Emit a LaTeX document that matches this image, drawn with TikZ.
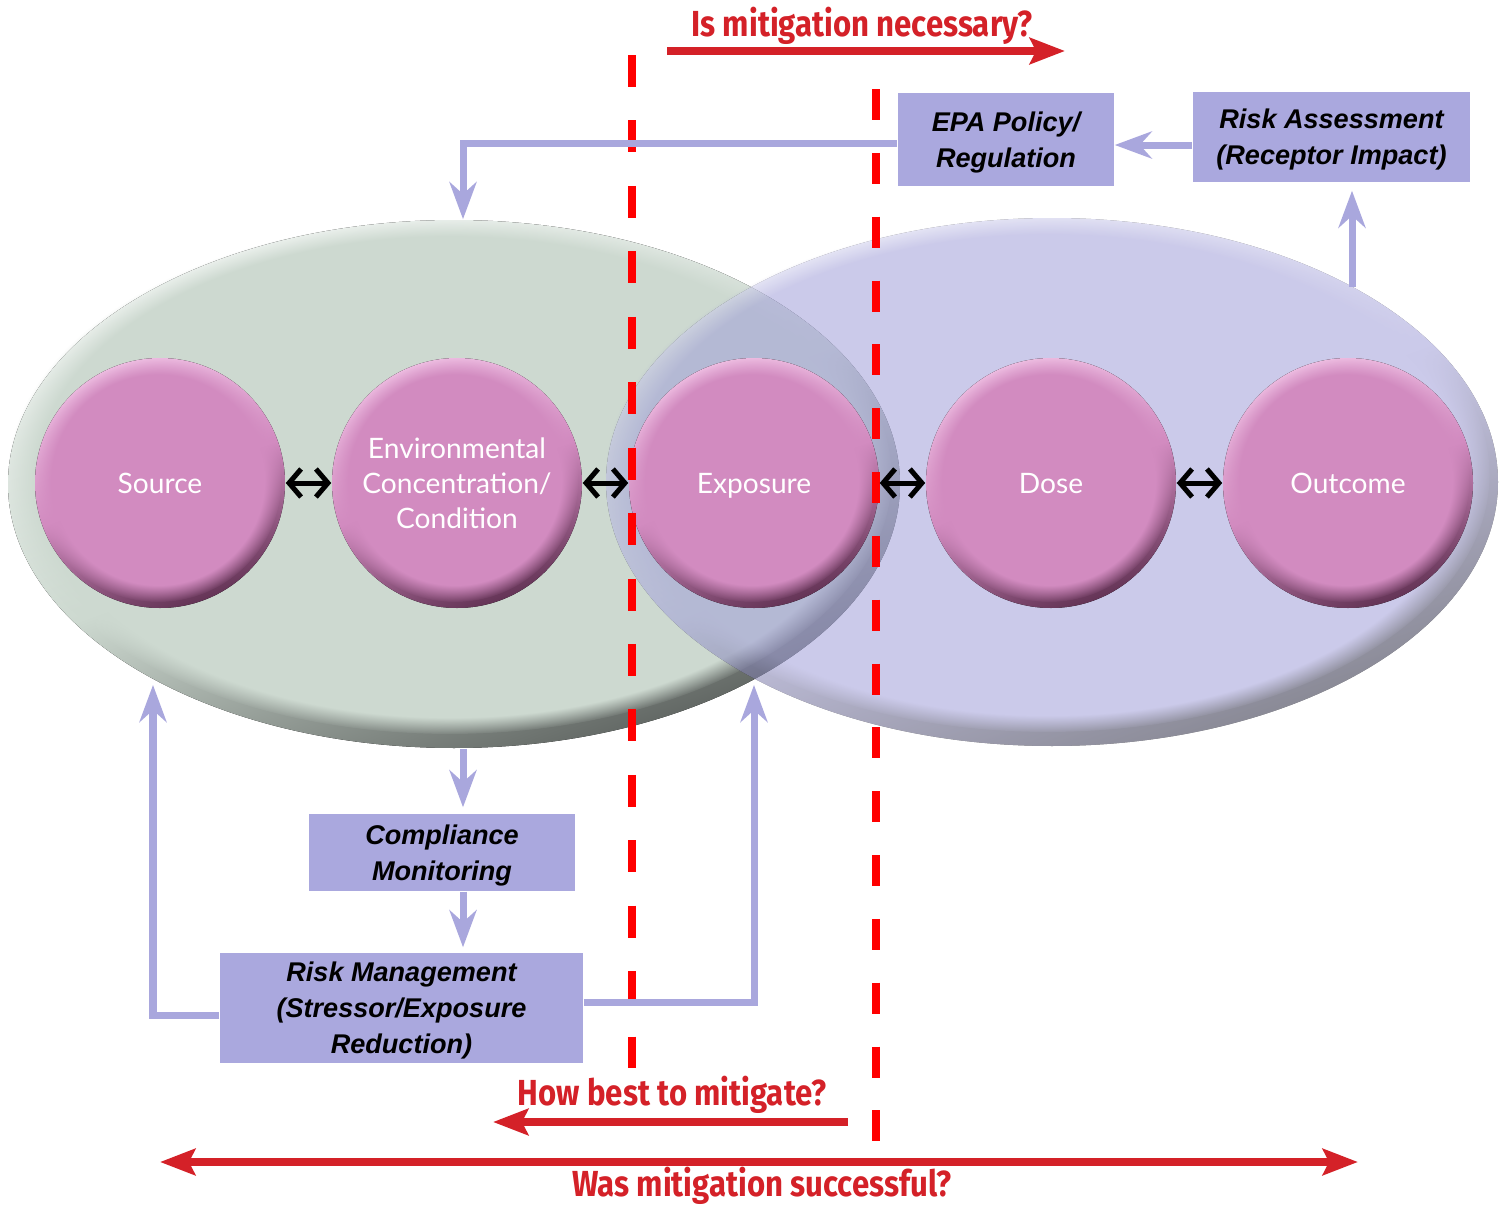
\documentclass[tikz,border=0pt]{standalone}
\usepackage{fontspec}
\usetikzlibrary{arrows.meta,shapes.geometric,fadings}
\newfontfamily\boxfont{Liberation Sans}
\newfontfamily\circfont{Lato}
\newfontfamily\askfont[FakeStretch=0.86]{Fira Sans}

\definecolor{boxc}{RGB}{170,168,222}
\definecolor{linkc}{RGB}{169,167,221}
\definecolor{askred}{RGB}{212,33,40}
\definecolor{cutred}{RGB}{255,0,0}
\definecolor{envbase}{RGB}{205,217,208}
\definecolor{envtop}{RGB}{240,244,241}
\definecolor{envbot}{RGB}{92,97,94}
\definecolor{hlbase}{RGB}{161,159,217}
\definecolor{hltop}{RGB}{215,215,240}
\definecolor{hlbot}{RGB}{35,35,55}
\definecolor{stbase}{RGB}{210,139,192}
\definecolor{sttop}{RGB}{238,190,226}
\definecolor{stbot}{RGB}{100,52,86}

% opaque core with a soft rim
\pgfdeclareradialshading{softdiscmask}{\pgfpointorigin}{%
  color(0bp)=(pgftransparent!0); color(21.5bp)=(pgftransparent!0);
  color(25bp)=(pgftransparent!100); color(50bp)=(pgftransparent!100)}
\pgfdeclarefading{softdisc}{\pgfuseshading{softdiscmask}}
\pgfdeclareradialshading{softovalmask}{\pgfpointorigin}{%
  color(0bp)=(pgftransparent!0); color(23.3bp)=(pgftransparent!0);
  color(25bp)=(pgftransparent!100); color(50bp)=(pgftransparent!100)}
\pgfdeclarefading{softoval}{\pgfuseshading{softovalmask}}

% bevelled disc lit from the upper left:
% cx, cy, rx, ry, base, rim light, rim shadow, inset, fading
\newcommand\bevelfill[9]{%
  \fill[top color=#6, bottom color=#7, middle color=#5, shading angle=20]
    (#1,#2) ellipse [x radius=#3, y radius=#4];
  \pgfmathsetmacro\bcx{#1-0.3*#8}%
  \pgfmathsetmacro\bcy{#2-0.5*#8}%
  \pgfmathsetmacro\brx{#3-0.3*#8}%
  \pgfmathsetmacro\bry{#4-0.5*#8}%
  \fill[#5, path fading=#9] (\bcx,\bcy) ellipse [x radius=\brx, y radius=\bry];
}

\begin{document}
\begin{tikzpicture}[x=0.01cm,y=-0.01cm,
  stage/.style={circle, minimum size=2.5cm, inner sep=0, text=white, align=center,
    text depth=0pt, font=\circfont\fontsize{8pt}{10pt}\selectfont},
  region/.style={ellipse, minimum width=8.92cm, minimum height=5.28cm, inner sep=0},
  cut/.style={cutred, line width=0.08cm},
  swap/.style={black, line width=0.05cm,
    {Straight Barb[length=0.12cm,width=0.28cm]}-{Straight Barb[length=0.12cm,width=0.28cm]}},
  box/.style={fill=boxc, inner sep=0, align=center, text depth=0pt,
    font=\boxfont\bfseries\itshape\fontsize{7.7pt}{10.2pt}\selectfont},
  link/.style={linkc, line width=0.07cm,
    -{Stealth[length=0.37cm,width=0.27cm,inset=0.12cm]}},
  ask/.style={text=askred, inner sep=0,
    font=\askfont\bfseries\fontsize{10.3pt}{12pt}\selectfont},
  askarrow/.style={askred, line width=0.08cm,
    -{Stealth[length=0.35cm,width=0.26cm,inset=0.06cm]}},
  askboth/.style={askred, line width=0.08cm,
    {Stealth[length=0.35cm,width=0.26cm,inset=0.06cm]}-{Stealth[length=0.35cm,width=0.26cm,inset=0.06cm]}}
]
\fill[white] (0,0) rectangle (1505,1206);
\useasboundingbox (0,0) rectangle (1505,1206);

% the two overlapping regions
\bevelfill{454}{484}{446}{264}{envbase}{envtop}{envbot}{14}{softoval}
\begin{scope}[transparency group, opacity=0.55]
  \bevelfill{1052}{482}{446}{264}{hlbase}{hltop}{hlbot}{14}{softoval}
\end{scope}
\node[region] (L) at (454,484) {};
\node[region] (R) at (1052,482) {};

% stage discs
\foreach \sx in {160,457,754,1051,1348}{%
  \bevelfill{\sx}{483}{125}{125}{stbase}{sttop}{stbot}{6}{softdisc}}
\node[stage] (src)  at (160,483)  {Source};
\node[stage] (env)  at (457,483)  {Environmental\\Concentration/\\Condition};
\node[stage] (exp)  at (754,483)  {Exposure};
\node[stage] (dose) at (1051,483) {Dose};
\node[stage] (out)  at (1348,483) {Outcome};

% decision boundaries
\draw[cut, dash pattern=on 0.32cm off 0.334cm] (632,55) -- (632,1068);
\draw[cut, dash pattern=on 0.31cm off 0.328cm] (876,89) -- (876,1141);

% links between stages
\draw[swap] (src) -- (env);
\draw[swap] (env) -- (exp);
\draw[swap] (exp) -- (dose);
\draw[swap] (dose) -- (out);

% boxes
\node[box, minimum width=2.16cm, minimum height=0.93cm] (epa) at (1006,139.5) {EPA Policy/\\Regulation};
\node[box, minimum width=2.77cm, minimum height=0.90cm] (riskA) at (1331.5,137) {Risk Assessment\\(Receptor Impact)};
\node[box, minimum width=2.66cm, minimum height=0.77cm] (comp) at (442,852.5) {Compliance\\Monitoring};
\node[box, minimum width=3.63cm, minimum height=1.10cm] (riskM) at (401.5,1008) {Risk Management\\(Stressor/Exposure\\Reduction)};

\coordinate (Rtop) at (1352,287);
\coordinate (srcIn) at (153,685);
\coordinate (expIn) at (754,685);

% feedback connectors
\draw[link] ([yshift=-0.035cm]epa.west) -| ([xshift=0.09cm]L.north);
\draw[link] ([yshift=-0.08cm]riskA.west) -- ([yshift=-0.08cm]riskA.west -| epa.east);
\draw[link, shorten >=0.08cm] (Rtop) -- (Rtop |- riskA.south);
\draw[link, shorten >=0.06cm] ([xshift=0.09cm]L.south) -- ([xshift=0.09cm]L.south |- comp.north);
\draw[link, shorten >=0.05cm] ([xshift=0.21cm]comp.south) -- ([xshift=0.21cm]comp.south |- riskM.north);
\draw[link] ([yshift=-0.07cm]riskM.west) -| (srcIn);
\draw[link] ([yshift=0.06cm]riskM.east) -| (expIn);

% questions
\node[ask, anchor=base] (q1) at (862,37) {Is mitigation necessary?};
\coordinate (q1a) at (667,51);
\coordinate (q1b) at (1065,51);
\draw[askarrow] (q1a) -- (q1b);

\node[ask, anchor=base] (q2) at (672,1105) {How best to mitigate?};
\coordinate (q2a) at (848,1122);
\coordinate (q2b) at (493,1122);
\draw[askarrow] (q2a) -- (q2b);

\node[ask, anchor=base] (q3) at (762,1196) {Was mitigation successful?};
\coordinate (q3a) at (160,1162);
\coordinate (q3b) at (1358,1162);
\draw[askboth] (q3a) -- (q3b);
\end{tikzpicture}
\end{document}
